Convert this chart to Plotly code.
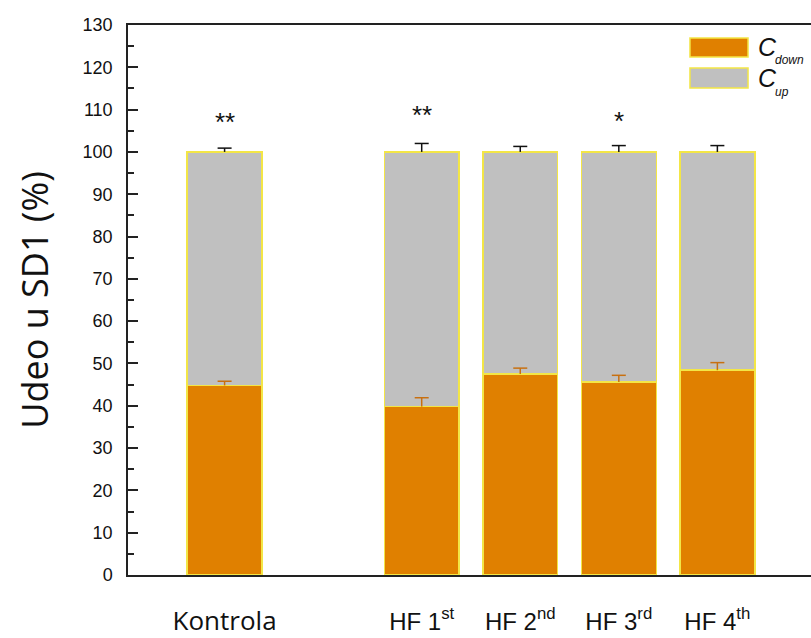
import plotly.graph_objects as go

# Group labels and their positions on the category axis (gap after Kontrola)
groups = [
    '<span style="font-family:Open Sans;font-size:26px">Kontrola</span>',
    "HF 1<sup>st</sup>", "HF 2<sup>nd</sup>", "HF 3<sup>rd</sup>", "HF 4<sup>th</sup>",
]
positions = [0, 2, 3, 4, 5]

# Share of C_down and its SD (%)
c_down = [44.8, 39.8, 47.5, 45.6, 48.4]
c_down_sd = [1.0, 2.1, 1.4, 1.6, 1.8]

# C_up completes each bar to 100 %
c_up = [100 - v for v in c_down]
c_up_sd = [0.9, 2.0, 1.3, 1.5, 1.5]

# Significance markers
sig_labels = ["**", "**", "", "*", ""]
sig_heights = [107.0, 108.7, 0, 107.3, 0]

ORANGE = "#e08000"
GRAY = "#c0c0c0"
EDGE = "#f3e646"
DARK = "#111111"
ERR_ORANGE = "#c87010"

fig = go.Figure()
fig.add_trace(go.Bar(
    x=positions, y=c_down, width=0.76, name="C down",
    marker=dict(color=ORANGE, line=dict(color=EDGE, width=1.5)),
    showlegend=False,
))
fig.add_trace(go.Bar(
    x=positions, y=c_up, width=0.76, name="C up",
    marker=dict(color=GRAY, line=dict(color=EDGE, width=1.5)),
    showlegend=False,
))


def upper_error(base, sd, color):
    """One-sided (upward) error bar: a stem down to the bar top plus a cap."""
    tops = [b + s for b, s in zip(base, sd)]
    return go.Scatter(
        x=positions, y=tops, mode="markers", showlegend=False,
        hoverinfo="skip",
        marker=dict(symbol="line-ew", size=10, color=color,
                    line=dict(color=color, width=1.5)),
        error_y=dict(type="data", symmetric=False,
                     array=[0] * len(sd), arrayminus=sd,
                     color=color, thickness=1.5, width=0),
    )


stack_tops = [d + u for d, u in zip(c_down, c_up)]
fig.add_trace(upper_error(c_down, c_down_sd, ERR_ORANGE))
fig.add_trace(upper_error(stack_tops, c_up_sd, DARK))

for xp, lab, h in zip(positions, sig_labels, sig_heights):
    if lab:
        fig.add_annotation(x=xp, y=h, text=lab, showarrow=False,
                           font=dict(size=26, color=DARK,
                                     family="Liberation Sans"),
                           xanchor="center", yanchor="middle")

# Hand-built legend in the upper right corner
legend_items = [
    ("down", ORANGE, 0.9764, 0.9418, 0.960, 0.9364),
    ("up", GRAY, 0.9218, 0.8855, 0.9036, 0.878),
]
for sub, col, y1, y0, yc, ysub in legend_items:
    fig.add_shape(type="rect", xref="paper", yref="paper",
                  x0=0.8228, x1=0.9078, y0=y0, y1=y1,
                  fillcolor=col, line=dict(color=EDGE, width=1.5))
    fig.add_annotation(xref="paper", yref="paper", x=0.919, y=yc,
                       text="<i>C</i>", showarrow=False, xanchor="left",
                       yanchor="middle",
                       font=dict(size=25, color=DARK, family="Liberation Sans"))
    fig.add_annotation(xref="paper", yref="paper", x=0.944, y=ysub,
                       text=f"<i>{sub}</i>", showarrow=False, xanchor="left",
                       yanchor="middle",
                       font=dict(size=12, color=DARK, family="Liberation Sans"))

fig.update_layout(
    width=811, height=638,
    margin=dict(l=128, r=0, t=25, b=63),
    barmode="stack",
    plot_bgcolor="white", paper_bgcolor="white",
    font=dict(family="Liberation Sans", color=DARK),
)
fig.update_xaxes(
    range=[-0.98, 5.95], automargin=False,
    tickvals=positions, ticktext=groups,
    ticks="", showgrid=False, zeroline=False,
    showline=True, linecolor="#222222", linewidth=1.5, mirror=True,
    tickfont=dict(size=24, family="Liberation Sans"),
    ticklabelstandoff=24,
)
fig.update_yaxes(
    range=[0, 130], tickvals=list(range(0, 131, 10)), automargin=False,
    ticks="inside", ticklen=10, tickwidth=1.5, tickcolor="#222222",
    minor=dict(ticks="inside", ticklen=6, tickwidth=1.5, tickcolor="#222222",
               dtick=5, showgrid=False),
    showgrid=False, zeroline=False,
    showline=True, linecolor="#222222", linewidth=1.5,
    tickfont=dict(size=18), ticklabelstandoff=10,
    title=dict(text="Udeo u SD1 (%)", font=dict(size=36, family="Open Sans"),
               standoff=23),
)

fig.write_html("out.html")
